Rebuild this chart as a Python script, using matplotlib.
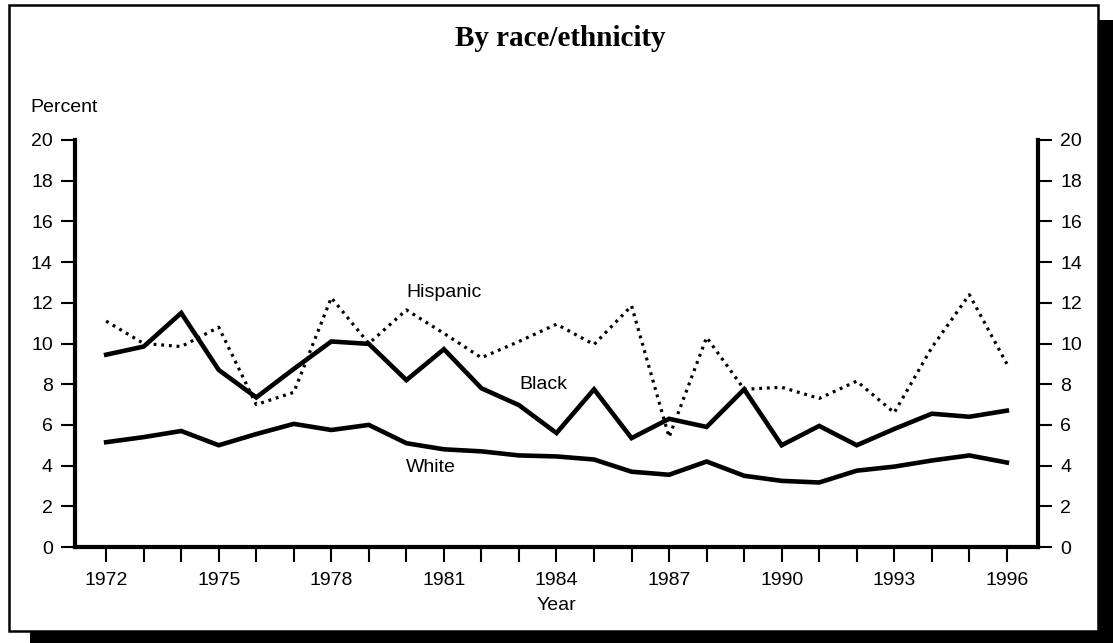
import matplotlib.pyplot as plt
from matplotlib.patches import Rectangle

years = list(range(1972, 1997))

white = [5.15, 5.4, 5.7, 5.0, 5.55, 6.05, 5.75, 6.0, 5.1, 4.8, 4.7, 4.5,
         4.45, 4.3, 3.7, 3.55, 4.2, 3.5, 3.25, 3.17, 3.75, 3.95, 4.25, 4.5, 4.15]
black = [9.45, 9.85, 11.5, 8.7, 7.35, 8.75, 10.1, 9.98, 8.2, 9.72, 7.8, 6.97,
         5.6, 7.75, 5.35, 6.3, 5.9, 7.75, 5.0, 5.95, 5.0, 5.8, 6.55, 6.4, 6.7]
hispanic = [11.1, 10.0, 9.85, 10.8, 7.0, 7.6, 12.25, 10.0, 11.65, 10.5, 9.3, 10.1,
            10.95, 9.95, 11.85, 5.4, 10.3, 7.75, 7.85, 7.3, 8.15, 6.6, 9.8, 12.4, 9.0]

yticks = list(range(0, 21, 2))
xlabels = [1972, 1975, 1978, 1981, 1984, 1987, 1990, 1993, 1996]

plt.rcParams['font.family'] = ['Liberation Sans', 'DejaVu Sans']
FS = 14

W, H = 1113, 643
fig = plt.figure(figsize=(W / 100, H / 100), dpi=100)

# frame and drop shadow (pixel coords -> figure fraction), kept under the axes
def px_rect(x0, y0, x1, y1, **kw):
    fig.patches.append(Rectangle((x0 / W, 1 - y1 / H), (x1 - x0) / W, (y1 - y0) / H,
                                 transform=fig.transFigure, zorder=-10, **kw))

px_rect(1098, 20, 1113, 643, facecolor='black', edgecolor='none')
px_rect(30, 631, 1113, 643, facecolor='black', edgecolor='none')
px_rect(9, 5, 1098, 631, facecolor='white', edgecolor='black', linewidth=1.8)

ax = fig.add_axes([75 / W, 1 - 547 / H, (1038 - 75) / W, (547 - 140) / H])
ax.set_facecolor('none')

ax.plot(years, white, color='black', lw=3.3, solid_joinstyle='miter')
ax.plot(years, black, color='black', lw=3.3, solid_joinstyle='miter')
ax.plot(years, hispanic, color='black', lw=2.3, linestyle=(0, (0.9, 1.5)))

ax.set_xlim(1971.17, 1996.83)
ax.set_ylim(0, 20)

for s in ['left', 'right', 'bottom']:
    ax.spines[s].set_linewidth(3)
ax.spines['top'].set_visible(False)

ax.set_yticks(yticks)
ax.set_xticks(years)
ax.set_xticklabels([str(y) if y in xlabels else '' for y in years])
ax.tick_params(axis='y', direction='out', length=10, width=1.5, labelsize=FS,
               right=True, labelright=True, pad=6)
ax.tick_params(axis='x', direction='out', length=11, width=1.5, labelsize=FS, pad=7)

ax.set_xlabel('Year', fontsize=FS, labelpad=6)

ax.text(1980.0, 12.5, 'Hispanic', fontsize=FS, va='center', ha='left')
ax.text(1983.0, 8.0, 'Black', fontsize=FS, va='center', ha='left')
ax.text(1980.0, 3.9, 'White', fontsize=FS, va='center', ha='left')

fig.text(30 / W, 1 - 107 / H, 'Percent', fontsize=FS, va='center', ha='left')
fig.text(560 / W, 1 - 38 / H, 'By race/ethnicity', fontsize=21, fontweight='bold',
         family='Liberation Serif', va='center', ha='center')

fig.savefig('out.png', dpi=100)
